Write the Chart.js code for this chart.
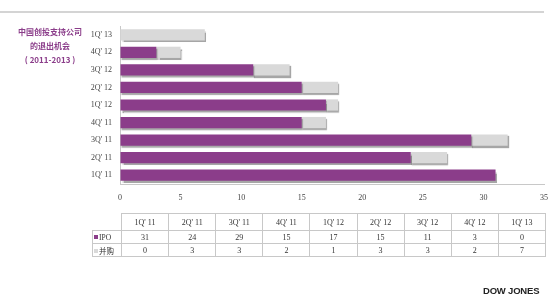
<!DOCTYPE html>
<html>
<head>
<meta charset="utf-8">
<script src="https://cdn.jsdelivr.net/npm/chart.js@4"></script>
<style>
  body { margin: 0; background: #fff; }
  #wrap { position: relative; width: 550px; height: 306px; }
  #topline { position: absolute; left: 0; top: 11px; width: 544px; height: 2px; background: #d4d4d4; }
  #title { position: absolute; left: 0; top: 25px; width: 100px; text-align: center; color: #8b3d8a;
    font: bold 8px "Noto Sans CJK SC", sans-serif; line-height: 14px; }
  #dj { position: absolute; left: 483px; top: 285px; font: bold 9.5px "Liberation Sans", sans-serif; color: #222; letter-spacing: -0.2px; }
  table { position: absolute; left: 92px; top: 213px; border-collapse: collapse;
    font: 8px "Liberation Serif", "Noto Sans CJK SC", serif; color: #333; }
  td { border: 1px solid #c8c8c8; text-align: center; padding: 0; }
  td.lab { width: 27px; text-align: left; padding-left: 1px; font-size: 7.5px; }
  td.blank { border: none; }
  tr.h td { height: 16px; }
  tr.r td { height: 12px; }
  .sq { display: inline-block; width: 4px; height: 4px; margin-right: 1px; vertical-align: 1px; }
</style>
</head>
<body>
<div id="wrap">
  <div id="topline"></div>
  <div id="title">中国创投支持公司<br>的退出机会<br>( 2011-2013 )</div>
  <canvas id="c" width="550" height="306"></canvas>
  <table id="tbl"></table>
  <div id="dj">DOW JONES</div>
</div>
<script>
const quarters = ["1Q' 11", "2Q' 11", "3Q' 11", "4Q' 11", "1Q' 12", "2Q' 12", "3Q' 12", "4Q' 12", "1Q' 13"];
const ipo = [31, 24, 29, 15, 17, 15, 11, 3, 0];
const mna = [0, 3, 3, 2, 1, 3, 3, 2, 7];
const seriesNames = ['IPO', '并购'];
const xTicks = [0, 5, 10, 15, 20, 25, 30, 35];

const purple = '#8b3d8a';
const grey = '#d9d9d9';

// table under the chart
function buildTable() {
    let t = document.getElementById('tbl');
    let colW = (544 - 120) / quarters.length;
    let html = '<tr class="h"><td class="blank lab"></td>';
    quarters.forEach(q => { html += '<td style="width:' + (colW - 1) + 'px">' + q + '</td>'; });
    html += '</tr>';
    [[ipo, purple], [mna, grey]].forEach((row, i) => {
        html += '<tr class="r"><td class="lab"><span class="sq" style="background:' + row[1] + '"></span>' + seriesNames[i] + '</td>';
        row[0].forEach(v => { html += '<td>' + v + '</td>'; });
        html += '</tr>';
    });
    t.innerHTML = html;
}
buildTable();

const shadow = {
    id: 'shadow',
    beforeDatasetsDraw(chart) {
        let ctx = chart.ctx;
        ctx.save();
        ctx.shadowColor = 'rgba(0,0,0,0.35)';
        ctx.shadowOffsetX = 1;
        ctx.shadowOffsetY = 2;
        ctx.shadowBlur = 1;
    },
    afterDatasetsDraw(chart) {
        chart.ctx.restore();
    }
};

let ctx = document.getElementById('c');

let chart = new Chart(ctx, {
    type: 'bar',
    data: {
        labels: quarters,
        datasets: [{
            label: seriesNames[0],
            data: ipo,
            backgroundColor: purple,
            barPercentage: 0.64,
            categoryPercentage: 1
        }, {
            label: seriesNames[1],
            data: mna,
            backgroundColor: grey,
            barPercentage: 0.64,
            categoryPercentage: 1
        }]
    },
    options: {
        indexAxis: 'y',
        responsive: false,
        animation: false,
        layout: {
            padding: { left: 0, right: 6, top: 26, bottom: 100 }
        },
        scales: {
            x: {
                stacked: true,
                min: 0,
                max: 35,
                afterBuildTicks: axis => { axis.ticks = xTicks.map(v => ({ value: v })); },
                afterFit: axis => { axis.height = 22; },
                grid: { drawOnChartArea: false, drawTicks: true, tickLength: 9, color: 'rgba(0,0,0,0)' },
                border: { color: '#c8c8c8' },
                ticks: {
                    padding: 0,
                    color: '#444',
                    font: { family: 'Liberation Serif', size: 8 }
                }
            },
            y: {
                stacked: true,
                reverse: true,
                afterFit: axis => { axis.width = 120; },
                grid: { display: false, drawTicks: false },
                border: { color: '#c8c8c8' },
                ticks: {
                    padding: 8,
                    color: '#444',
                    font: { family: 'Liberation Serif', size: 8 }
                }
            }
        },
        plugins: {
            legend: { display: false },
            tooltip: { enabled: false }
        }
    },
    plugins: [shadow]
});
</script>
</body>
</html>
